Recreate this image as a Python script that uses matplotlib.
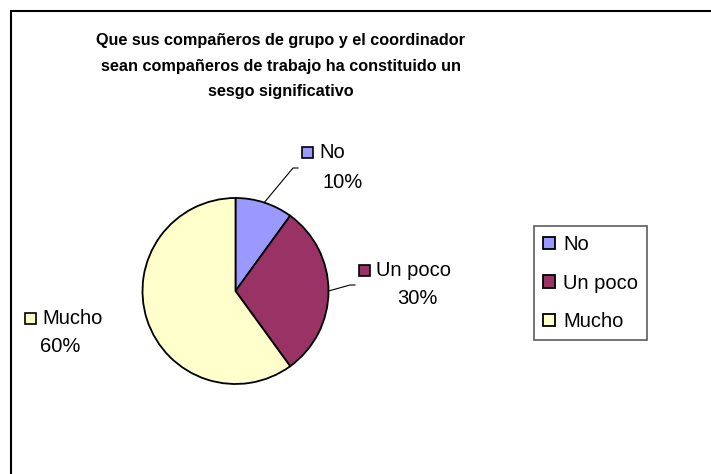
import numpy as np
import matplotlib
matplotlib.use("Agg")
import matplotlib.pyplot as plt
from matplotlib.patches import Rectangle

plt.rcParams['font.family'] = ['Liberation Sans', 'DejaVu Sans']

title_lines = ["Que sus compañeros de grupo y el coordinador",
               "sean compañeros de trabajo ha constituido un",
               "sesgo significativo"]
categories = ["No", "Un poco", "Mucho"]
values = [10, 30, 60]
colors = ["#9999FF", "#993366", "#FFFFCC"]

W, H = 711, 474
fig = plt.figure(figsize=(W / 100, H / 100), dpi=100)
ax = fig.add_axes([0, 0, 1, 1])
ax.set_xlim(0, W)
ax.set_ylim(0, H)
ax.axis('off')

def py(y):
    return H - y

# outer border
fig.patches.append(Rectangle((10.5 / W, -0.1), 1.2, (H - 10.5) / H + 0.1,
                             transform=fig.transFigure, fill=False,
                             edgecolor='black', linewidth=1.5))

# title
ax.text(281, py(66), "\n".join(title_lines), ha='center', va='center',
        fontsize=11.7, fontweight='bold', linespacing=1.85)

cx, cy, r = 235.5, py(291), 93
wedges, _ = ax.pie(values, colors=colors, startangle=90, counterclock=False,
                   center=(cx, cy), radius=r, frame=True,
                   wedgeprops=dict(edgecolor='black', linewidth=1.3))
ax.set_xlim(0, W)
ax.set_ylim(0, H)
ax.set_aspect('equal')
ax.axis('off')

total = sum(values)
lab_fs = 14.5
# label positions (pixel): square center, pct center, leader elbow
label_pos = {
    "No": dict(sq=(307.5, 152.5), pct=(343, 182), leader=[(293, 168), (298, 168)]),
    "Un poco": dict(sq=(364, 270), pct=(417, 298), leader=[(350, 285), (355, 285)]),
    "Mucho": dict(sq=(30, 318), pct=(60, 347), leader=None),
}
start = 90.0
for cat, v, col, w in zip(categories, values, colors, wedges):
    ang = start - 360.0 * v / total / 2
    start -= 360.0 * v / total
    p = label_pos[cat]
    sx, sy = p['sq']
    ax.add_patch(Rectangle((sx - 5.5, py(sy) - 5.5), 11, 11, facecolor=col,
                           edgecolor='black', linewidth=1.2))
    ax.text(sx + 12, py(sy), cat, ha='left', va='center', fontsize=lab_fs)
    ax.text(p['pct'][0], py(p['pct'][1]), f"{v}%", ha='center', va='center',
            fontsize=lab_fs)
    if p['leader']:
        ex = cx + r * np.cos(np.radians(ang))
        ey = cy + r * np.sin(np.radians(ang))
        xs = [ex] + [q[0] for q in p['leader']]
        ys = [ey] + [py(q[1]) for q in p['leader']]
        ax.plot(xs, ys, color='black', linewidth=0.8)

leg = fig.legend(wedges, categories, loc='upper left',
                 bbox_to_anchor=(534 / W, 1 - 226 / H), fontsize=lab_fs,
                 frameon=True, fancybox=False, edgecolor='#333333',
                 handlelength=0.6, handleheight=0.6, handletextpad=0.4,
                 labelspacing=0.97, borderpad=0.45, borderaxespad=0)
leg.get_frame().set_linewidth(1.2)

fig.savefig("out.png", dpi=100)
